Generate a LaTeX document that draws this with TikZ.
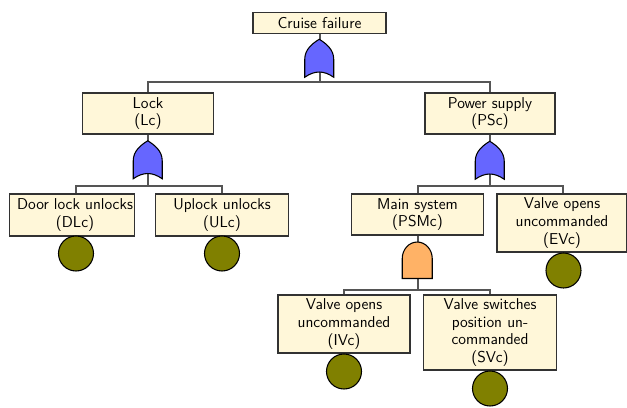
\documentclass[tikz,border=0pt]{standalone}
\usepackage{fontspec}
\usetikzlibrary{backgrounds}
\definecolor{boxfill}{RGB}{255,247,217}
\definecolor{linegray}{RGB}{85,85,85}
\definecolor{boxedge}{RGB}{50,50,50}
\definecolor{orblue}{RGB}{102,102,255}
\definecolor{andorange}{RGB}{255,178,102}
\definecolor{leafolive}{RGB}{128,128,0}

% OR gate outline drawn inside the footprint of a gate node
\newcommand\fgor[1]{%
  \begin{scope}[shift={(#1.south west)},yscale=-1]
    \filldraw[gateline,fill=orblue] (0,0) -- (0,18)
      .. controls (0,28) and (8,34) .. (14.5,38)
      .. controls (21,34) and (29,28) .. (29,18) -- (29,0)
      .. controls (19,7) and (10,7) .. (0,0) -- cycle;
  \end{scope}}
% AND gate outline
\newcommand\fgand[1]{%
  \begin{scope}[shift={(#1.south west)},yscale=-1]
    \filldraw[gateline,fill=andorange] (0,0) -- (0,20)
      .. controls (0,29) and (6.7,36.5) .. (15,36.5)
      .. controls (23.3,36.5) and (30,29) .. (30,20) -- (30,0) -- cycle;
  \end{scope}}

\begin{document}
\begin{tikzpicture}[x=0.75pt,y=-0.75pt,
  evt/.style={draw=boxedge,fill=boxfill,line width=0.8pt,align=center,
    inner sep=1pt,font=\sffamily\fontsize{11.8}{13.3}\selectfont},
  wd/.style={minimum width=#1*0.75pt},
  ht/.style={minimum height=#1*0.75pt},
  orgate/.style={inner sep=0pt,minimum width=29*0.75pt,minimum height=38*0.75pt},
  andgate/.style={inner sep=0pt,minimum width=30*0.75pt,minimum height=36.5*0.75pt},
  gateline/.style={draw=black,line width=0.8pt},
  leaf/.style={circle,draw=black,fill=leafolive,line width=0.8pt,
    minimum size=35*0.75pt,inner sep=0pt},
  conn/.style={draw=linegray,line width=1.5pt}]
\useasboundingbox (0,0) rectangle (627,407);

% events
\node[evt,wd=133,ht=21] (top) at (319.5,22.8) {Cruise failure};
\node[evt,wd=131,ht=41] (lc) at (148,113.5) {Lock\\(Lc)};
\node[evt,wd=130,ht=41] (psc) at (490,113.5) {Power supply\\(PSc)};
\node[evt,wd=125,ht=42,inner xsep=0pt] (dlc) at (72,215)
  {\hspace*{4.5pt}Door lock unlocks\\\hspace*{4.5pt}(DLc)};
\node[evt,wd=133,ht=42] (ulc) at (222,215) {Uplock unlocks\\(ULc)};
\node[evt,wd=132,ht=41] (psmc) at (417.5,214.5) {Main system\\(PSMc)};
\node[evt,wd=130,ht=58] (evc) at (562,223) {Valve opens\\uncommanded\\(EVc)};
\node[evt,wd=132,ht=58] (ivc) at (344,324) {Valve opens\\uncommanded\\(IVc)};
\node[evt,wd=133,ht=75] (svc) at (490,332.5) {Valve switches\\position un-\\commanded\\(SVc)};

% gates
\node[orgate] (g0) at (319.5,58) {};
\node[orgate] (g1) at (148,159.5) {};
\node[orgate] (g2) at (490,160) {};
\node[andgate] (g3) at (417.5,260) {};

% basic events
\node[leaf] (dlcB) at (76,253.5) {};
\node[leaf] (ulcB) at (222,253.5) {};
\node[leaf] (evcB) at (563.5,270.5) {};
\node[leaf] (ivcB) at (344,371.5) {};
\node[leaf] (svcB) at (490,388.5) {};

% bus bars
\coordinate (b0) at (319.5,82);
\coordinate (b1) at (148,186);
\coordinate (b2) at (490,186);
\coordinate (b3) at (417.5,290);

\begin{pgfonlayer}{background}
  \draw[conn] (top.south) -- (g0.center) -- (b0);
  \draw[conn] (lc.north) |- (b0) -| (psc.north);
  \draw[conn] (lc.south) -- (g1.center) -- (b1);
  \draw[conn] ([xshift=3pt]dlc.north) |- (b1) -| (ulc.north);
  \draw[conn] (psc.south) -- (g2.center) -- (b2);
  \draw[conn] (psmc.north) |- (b2) -| ([xshift=0.75pt]evc.north);
  \draw[conn] (psmc.south) -- (g3.center) -- (b3);
  \draw[conn] (ivc.north) |- (b3) -| (svc.north);
\end{pgfonlayer}

\fgor{g0}
\fgor{g1}
\fgor{g2}
\fgand{g3}
\end{tikzpicture}
\end{document}
